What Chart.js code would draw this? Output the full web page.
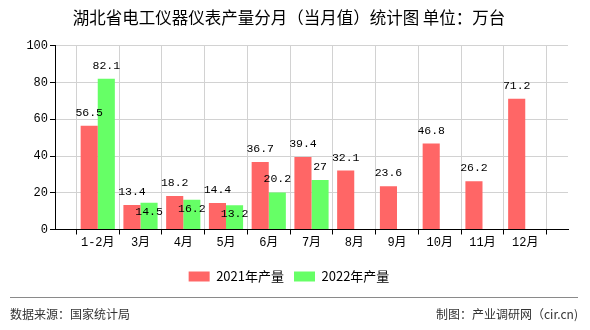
<!DOCTYPE html>
<html lang="zh">
<head>
<meta charset="UTF-8">
<title>湖北省电工仪器仪表产量分月（当月值）统计图</title>
<script src="https://cdn.jsdelivr.net/npm/chart.js@4.4.0/dist/chart.umd.min.js"></script>
<style>
    body { margin: 0; background: #fff; }
    #wrap { position: relative; width: 590px; height: 330px; }
    #foot {
        position: absolute; left: 10px; right: 12px; top: 297px;
        border-top: 1px solid #8a8a8a; padding-top: 7px;
        display: flex; justify-content: space-between;
        font: 12px 'Noto Sans CJK SC', sans-serif; color: #333;
    }
</style>
</head>
<body>
<div id="wrap">
    <canvas id="chart" width="590" height="330"></canvas>
    <div id="foot"><span>数据来源：国家统计局</span><span>制图：产业调研网（cir.cn)</span></div>
</div>
<script>
    const months = ['1-2月', '3月', '4月', '5月', '6月', '7月', '8月', '9月', '10月', '11月', '12月'];
    const output2021 = [56.5, 13.4, 18.2, 14.4, 36.7, 39.4, 32.1, 23.6, 46.8, 26.2, 71.2];
    const output2022 = [82.1, 14.5, 16.2, 13.2, 20.2, 27, null, null, null, null, null];
    const yTicks = [0, 20, 40, 60, 80, 100];

    const monoFont = "'Liberation Mono', 'Noto Sans CJK SC', monospace";

    // empty slot at each end so the months sit on the grid lines
    const labels = [''].concat(months, ['']);
    const pad = arr => [null].concat(arr, [null]);

    // value labels over the bars; a 2022 label goes under its bar top when it would hit the 2021 one
    const valueLabels = {
        id: 'valueLabels',
        afterDatasetsDraw(chart) {
            const ctx = chart.ctx;
            const first = chart.getDatasetMeta(0);
            ctx.save();
            ctx.font = '11.5px ' + monoFont;
            ctx.fillStyle = '#000';
            ctx.textAlign = 'center';
            ctx.textBaseline = 'middle';
            chart.data.datasets.forEach((ds, di) => {
                chart.getDatasetMeta(di).data.forEach((bar, i) => {
                    const v = ds.data[i];
                    if (v === null) return;
                    let y = bar.y - 13;
                    if (di === 1 && chart.data.datasets[0].data[i] !== null &&
                        Math.abs(first.data[i].y - bar.y) < 16) {
                        y = bar.y + 9;
                    }
                    ctx.fillText(String(v), bar.x, y);
                });
            });
            ctx.restore();
        }
    };

    const ctx = document.getElementById('chart').getContext('2d');
    new Chart(ctx, {
        type: 'bar',
        data: {
            labels,
            datasets: [{
                label: '2021年产量',
                data: pad(output2021),
                backgroundColor: '#ff6666',
                borderWidth: 0
            }, {
                label: '2022年产量',
                data: pad(output2022),
                backgroundColor: '#66ff66',
                borderWidth: 0
            }]
        },
        options: {
            responsive: false,
            animation: false,
            categoryPercentage: 0.8,
            barPercentage: 1,
            layout: { padding: { left: 10, right: 22, top: 0, bottom: 37 } },
            plugins: {
                title: {
                    display: true,
                    text: '湖北省电工仪器仪表产量分月（当月值）统计图 单位：万台',
                    color: '#000',
                    font: { family: "'Noto Sans CJK SC', sans-serif", size: 16.5, weight: 'normal' },
                    padding: { top: 8, bottom: 18 }
                },
                legend: {
                    position: 'bottom',
                    labels: {
                        boxWidth: 21,
                        boxHeight: 10,
                        color: '#000',
                        font: { family: "'Noto Sans CJK SC', sans-serif", size: 13 }
                    }
                },
                tooltip: { enabled: false }
            },
            scales: {
                x: {
                    offset: false,
                    grid: { color: '#d2d2d2', tickColor: '#000', tickLength: 5 },
                    border: { color: '#000' },
                    ticks: {
                        autoSkip: false, maxRotation: 0, padding: 1,
                        color: '#000', font: { family: monoFont, size: 12 }
                    },
                    afterFit(scale) { scale.height = 30.5; }
                },
                y: {
                    min: yTicks[0],
                    max: yTicks[yTicks.length - 1],
                    grid: { color: '#d2d2d2', tickColor: '#000', tickLength: 5 },
                    border: { color: '#000' },
                    ticks: {
                        stepSize: yTicks[1] - yTicks[0], padding: 2,
                        color: '#000', font: { family: monoFont, size: 12 }
                    },
                    afterFit(scale) { scale.width = 45; }
                }
            }
        },
        plugins: [valueLabels]
    });
</script>
</body>
</html>
